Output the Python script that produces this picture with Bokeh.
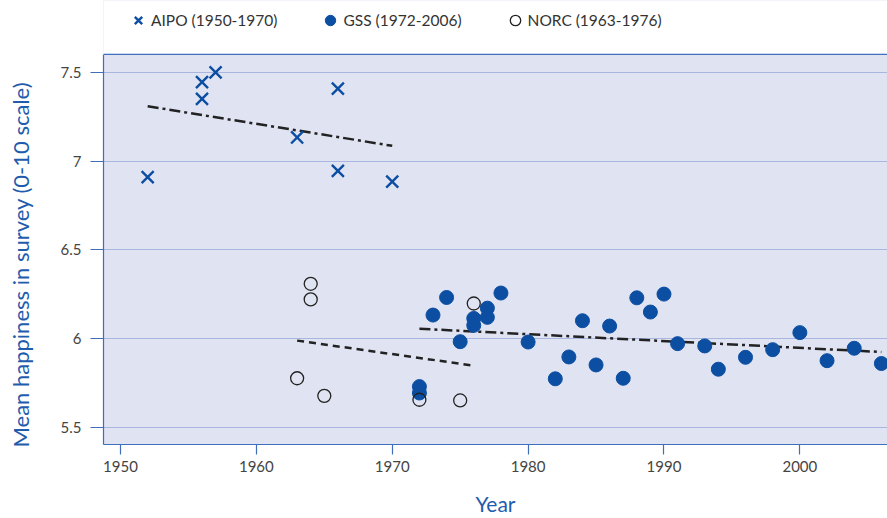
from bokeh.plotting import figure
from bokeh.models import Range1d, FixedTicker, Legend, LegendItem, BoxAnnotation, Span
from bokeh.embed import file_html
from bokeh.resources import INLINE

# ---- data ----
aipo_year = [1952, 1956, 1956, 1957, 1963, 1966, 1966, 1970]
aipo_val = [6.91, 7.445, 7.35, 7.50, 7.133, 7.408, 6.945, 6.884]

gss_year = [1972, 1972, 1973, 1974, 1975, 1976, 1976, 1977, 1977, 1978,
            1980, 1982, 1983, 1984, 1985, 1986, 1987, 1988, 1989, 1990,
            1991, 1993, 1994, 1996, 1998, 2000, 2002, 2004, 2006]
gss_val = [5.730, 5.694, 6.133, 6.232, 5.983, 6.114, 6.075, 6.172, 6.120, 6.257,
           5.981, 5.774, 5.897, 6.101, 5.852, 6.071, 5.777, 6.230, 6.150, 6.251,
           5.972, 5.959, 5.828, 5.895, 5.938, 6.034, 5.876, 5.946, 5.860]

norc_year = [1963, 1964, 1964, 1965, 1972, 1975, 1976]
norc_val = [5.777, 6.309, 6.221, 5.678, 5.656, 5.652, 6.198]

aipo_trend_year = [1952, 1970]
aipo_trend_val = [7.309, 7.086]
gss_trend_year = [1972, 2006]
gss_trend_val = [6.056, 5.925]
norc_trend_year = [1963, 1976]
norc_trend_val = [5.989, 5.848]

x_ticks = [1950, 1960, 1970, 1980, 1990, 2000]
y_ticks = [5.5, 6.0, 6.5, 7.0, 7.5]
y_tick_labels = ["5.5", "6", "6.5", "7", "7.5"]

legend_labels = ["AIPO (1950-1970)", "GSS (1972-2006)", "NORC (1963-1976)"]
x_title = "Year"
y_title = "Mean happiness in survey (0-10 scale)"

# ---- layout / style ----
W, H = 887, 518
BORDER_L, BORDER_B = 103, 73
PLOT_TOP_PX = 54                     # where the shaded plot area begins
X_MIN, X_MAX = 1948.75, 2006.45
Y_MIN, Y_MAX = 5.404, 7.601
frame_h = H - BORDER_B
px_per_unit = (frame_h - PLOT_TOP_PX) / (Y_MAX - Y_MIN)
Y_EXT = Y_MAX + PLOT_TOP_PX / px_per_unit   # room for the legend above the plot area

BLUE = "#0b4ea2"
AXIS_BLUE = "#3f6fba"
FONT = "Lato"

p = figure(width=W, height=H, output_backend="svg", toolbar_location=None,
           x_range=Range1d(X_MIN, X_MAX), y_range=Range1d(Y_MIN, Y_EXT),
           min_border_left=BORDER_L, min_border_right=0, min_border_top=0,
           min_border_bottom=BORDER_B)

p.background_fill_color = "#e0e3f2"
p.border_fill_color = "white"
p.outline_line_color = None

p.xgrid.visible = False
p.ygrid.grid_line_color = "#a9b6df"
p.ygrid.grid_line_width = 1.2
p.ygrid.ticker = FixedTicker(ticks=y_ticks)

# white strip above the plot area (holds the legend) and the top border line
p.add_layout(BoxAnnotation(bottom=Y_MAX, fill_color="white", fill_alpha=1.0,
                           line_color=None))
p.add_layout(Span(location=Y_MAX, dimension="width", line_color=AXIS_BLUE,
                  line_width=1.2))

# axes
p.xaxis.ticker = FixedTicker(ticks=x_ticks)
p.yaxis.ticker = FixedTicker(ticks=y_ticks)
p.yaxis.bounds = (Y_MIN, Y_MAX)
p.yaxis.major_label_overrides = {t: l for t, l in zip(y_ticks, y_tick_labels)}
for ax in (p.xaxis[0], p.yaxis[0]):
    ax.axis_line_color = AXIS_BLUE
    ax.axis_line_width = 1.2
    ax.major_tick_line_color = AXIS_BLUE
    ax.major_tick_line_width = 1.2
    ax.major_tick_in = 0
    ax.minor_tick_line_color = None
    ax.major_label_text_font = FONT
    ax.major_label_text_font_size = "15px"
    ax.major_label_text_color = "#444444"
    ax.axis_label_text_font = FONT
    ax.axis_label_text_color = "#1f5cad"
    ax.axis_label_text_font_style = "normal"

p.xaxis.axis_label_text_font_size = "21px"
p.yaxis.axis_label_text_font_size = "22px"
p.xaxis.major_tick_out = 10
p.yaxis.major_tick_out = 13
p.xaxis.major_label_standoff = 6
p.yaxis.major_label_standoff = 9
p.xaxis.axis_label = x_title
p.xaxis.axis_label_standoff = 16
p.yaxis.axis_label_standoff = 24
# non-breaking spaces keep the y title centred on the shaded area, not the taller frame
p.yaxis.axis_label = y_title + "\u00a0" * 15

# trend lines
p.line(aipo_trend_year, aipo_trend_val, line_color="#222222", line_width=2.5,
       line_dash="11 4 3 4")
p.line(gss_trend_year, gss_trend_val, line_color="#222222", line_width=2.5,
       line_dash="11 4 3 4")
p.line(norc_trend_year, norc_trend_val, line_color="#222222", line_width=2.5,
       line_dash="7 5")

# points
r_aipo = p.scatter(aipo_year, aipo_val, marker="x", size=17, line_color=BLUE,
                   line_width=2.4)
r_gss = p.scatter(gss_year, gss_val, marker="circle", size=14, fill_color=BLUE,
                  line_color=BLUE)
r_norc = p.scatter(norc_year, norc_val, marker="circle", size=13,
                   fill_color=None, line_color="#222222", line_width=1.3)

legend = Legend(items=[LegendItem(label=legend_labels[0], renderers=[r_aipo]),
                       LegendItem(label=legend_labels[1], renderers=[r_gss]),
                       LegendItem(label=legend_labels[2], renderers=[r_norc])],
                orientation="horizontal", location=(22, frame_h - 34),
                border_line_color=None, background_fill_alpha=0,
                padding=0, margin=0, spacing=40, label_standoff=0,
                glyph_width=26, glyph_height=26, label_height=20,
                label_text_font=FONT, label_text_font_size="15.5px",
                label_text_color="#333333")
p.add_layout(legend, "center")

open("out.html", "w").write(file_html(p, INLINE))
